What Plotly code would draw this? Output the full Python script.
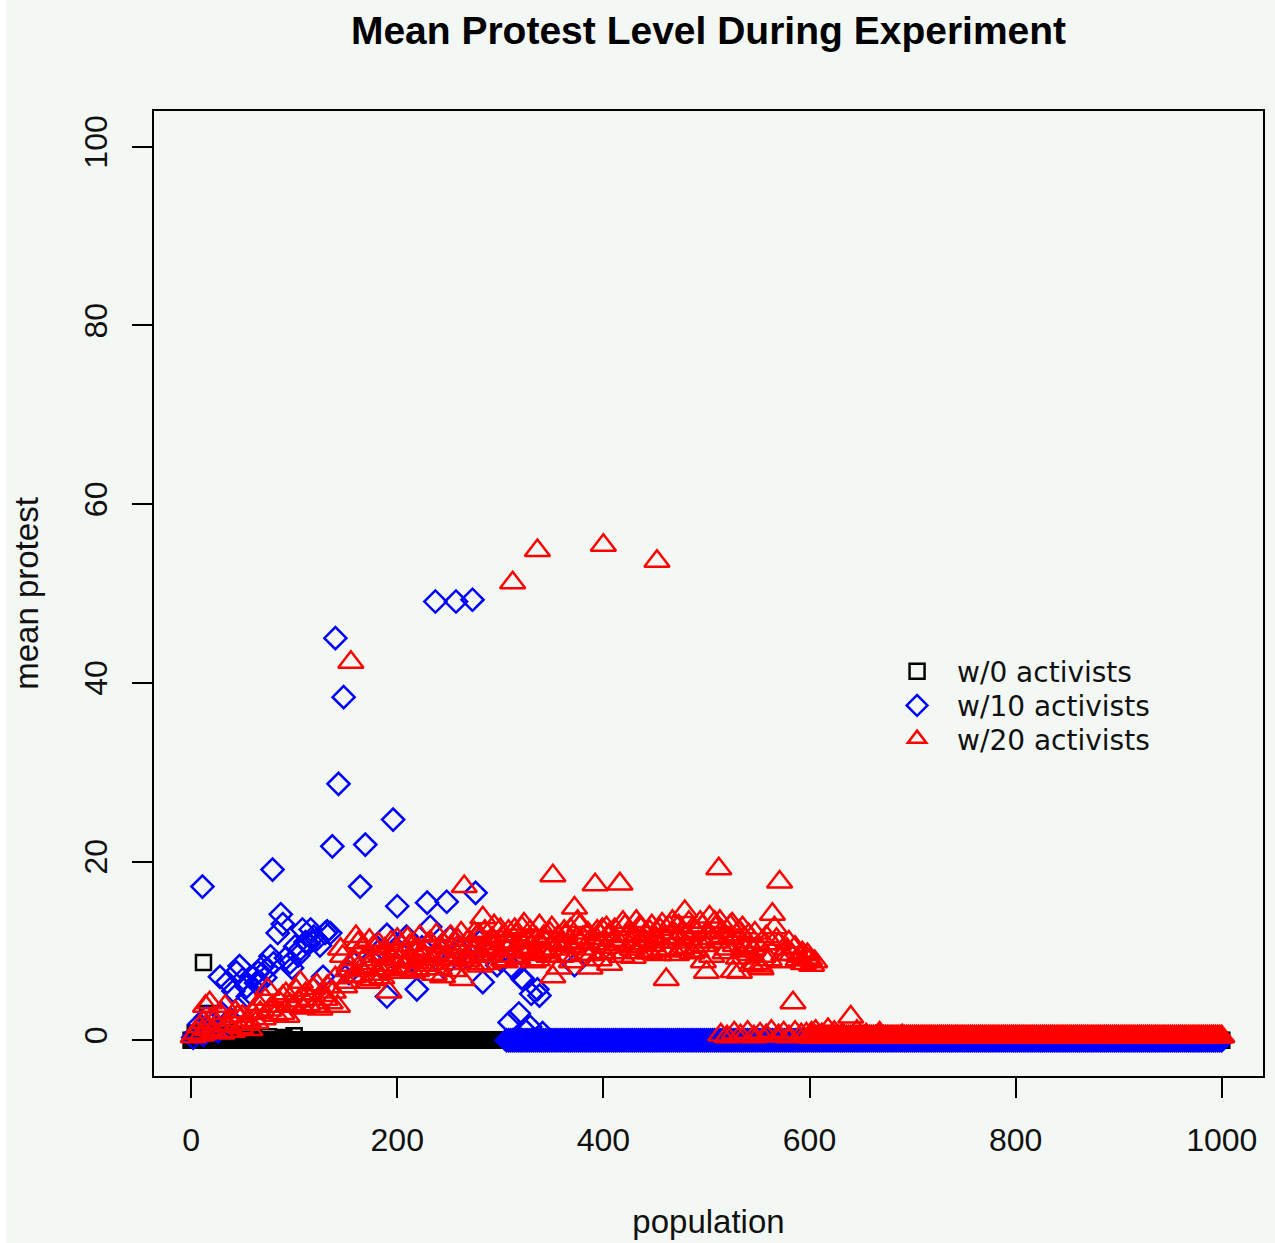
import plotly.graph_objects as go

# ---------------- data ----------------
# w/0 activists (black squares): scattered early values
black_x = [12, 16, 4, 8, 20, 26, 34, 40, 48, 60, 75, 90, 100]
black_y = [8.7, 3.0, 0.8, 0.5, 1.0, 0.6, 0.9, 0.5, 0.7, 0.6, 0.4, 0.3, 0.5]
# flat part: population grid, protest level read as 0
black_flat_x = list(range(0, 1001, 2))
black_flat_y = [0.0] * len(black_flat_x)

# w/10 activists (blue diamonds)
blue_x = [2, 5, 8, 11, 12, 15, 18, 22, 26, 28, 30, 33, 35, 38, 41, 44, 47, 50, 54, 55,
          58, 60, 63, 65, 67, 70, 72, 74, 77, 79, 80, 84, 87, 89, 92, 96, 98, 101, 104, 106,
          108, 111, 114, 116, 119, 122, 125, 128, 130, 132, 135, 137, 140, 143, 148, 153, 158, 164, 169, 175,
          182, 186, 190, 190, 196, 200, 204, 209, 214, 219, 224, 229, 232, 237, 240, 245, 248, 251, 257, 262,
          268, 273, 276, 280, 283, 288, 292, 297, 300, 305, 309, 313, 318, 321, 322, 325, 329, 330, 336, 338,
          341, 372]
blue_y = [0.3, 0.8, 1.8, 17.2, 0.6, 2.6, 1.2, 2.0, 1.0, 7.1, 3.0, 1.6, 6.5, 2.4, 5.5, 7.6, 8.3, 6.8, 6.0, 4.9,
          5.2, 7.1, 6.4, 7.6, 6.5, 8.3, 7.0, 8.0, 9.4, 19.1, 8.6, 12.0, 14.1, 13.0, 9.2, 8.7, 8.1, 10.5, 9.5, 10.2,
          12.4, 11.0, 10.8, 12.4, 11.6, 11.3, 10.6, 7.1, 12.0, 12.2, 12.0, 21.7, 45.0, 28.7, 38.4, 7.5, 8.6, 17.2, 21.9, 9.0,
          10.0, 8.0, 11.8, 4.9, 24.7, 15.0, 10.5, 11.6, 9.0, 5.7, 10.4, 15.4, 12.7, 49.1, 9.6, 8.2, 15.5, 11.5, 49.1, 10.0,
          9.2, 49.3, 16.5, 11.0, 6.5, 9.8, 10.6, 8.4, 9.0, 10.2, 2.0, 8.0, 3.0, 7.0, 6.8, 1.0, 1.5, 5.2, 5.7, 5.0,
          0.8, 8.4]
blue_flat_x = list(range(306, 1001, 2))
blue_flat_y = [0.0] * len(blue_flat_x)

# w/20 activists (red triangles)
red_x = [2, 5, 8, 10, 12, 14, 16, 18, 20, 22, 25, 28, 30, 33, 35, 38, 40, 43, 45, 48,
         50, 53, 55, 57, 60, 63, 65, 67, 70, 72, 74, 76, 79, 82, 85, 88, 89, 92, 93, 96,
         99, 102, 104, 106, 108, 111, 113, 115, 118, 120, 122, 125, 127, 130, 132, 135, 138, 140, 142, 145,
         147, 149, 151, 153, 155, 157, 160, 162, 165, 168, 171, 174, 177, 180, 183, 186, 189, 192, 195, 198,
         200, 203, 206, 209, 212, 215, 218, 221, 224, 227, 230, 233, 236, 239, 242, 244, 247, 250, 253, 256,
         259, 261, 263, 265, 268, 270, 273, 275, 277, 280, 283, 286, 289, 292, 295, 297, 300, 303, 306, 309,
         312, 312, 315, 318, 321, 324, 327, 330, 333, 336, 336, 339, 342, 345, 348, 351, 351, 354, 357, 360,
         363, 366, 368, 370, 372, 375, 378, 380, 383, 387, 390, 392, 394, 397, 400, 400, 403, 406, 409, 413,
         416, 419, 422, 426, 429, 432, 435, 438, 441, 445, 445, 448, 452, 452, 455, 458, 461, 464, 467, 471,
         474, 477, 479, 482, 484, 487, 490, 494, 497, 500, 503, 506, 509, 512, 513, 516, 520, 523, 526, 529,
         532, 532, 536, 539, 542, 545, 548, 552, 555, 558, 564, 568, 571, 575, 578, 584, 586, 589, 590, 593,
         594, 597, 598, 600, 602, 605,
         514, 520, 527, 533, 540, 546, 552, 558, 563, 570, 575, 580, 586, 592, 597,
         602, 606, 612, 618, 624, 632, 640, 646, 655, 668, 690]
red_y = [0.4, 0.8, 1.5, 0.6, 2.0, 3.8, 1.2, 4.2, 2.4, 1.0, 1.8, 3.0, 0.8, 3.8, 1.6, 2.2, 1.0, 3.2, 2.7, 1.4,
         2.7, 1.8, 2.2, 1.2, 3.0, 2.0, 4.0, 3.1, 2.4, 4.6, 5.7, 3.4, 3.8, 2.8, 4.4, 3.0, 4.9, 5.2, 2.7, 4.0,
         3.8, 5.6, 4.4, 6.5, 3.6, 5.2, 4.0, 4.6, 5.8, 3.8, 6.2, 3.5, 5.0, 4.6, 6.0, 4.2, 5.4, 7.0, 3.8, 10.2,
         9.4, 6.0, 6.5, 8.4, 42.3, 7.1, 11.6, 10.9, 8.0, 9.0, 6.5, 8.6, 10.5, 7.4, 7.9, 9.6, 8.4, 5.4, 9.2, 10.0,
         11.3, 7.9, 9.8, 8.8, 10.6, 7.6, 8.7, 10.2, 9.4, 8.0, 10.8, 9.1, 7.4, 9.8, 10.5, 7.1, 9.5, 8.6, 10.3, 9.0,
         11.2, 9.9, 6.8, 17.2, 8.9, 10.6, 9.4, 12.0, 11.6, 8.3, 13.7, 10.4, 9.6, 11.4, 10.0, 10.2, 12.4, 9.0, 11.0, 10.6,
         9.4, 51.2, 11.8, 10.2, 12.6, 9.8, 11.2, 10.4, 9.6, 54.8, 9.0, 10.9, 11.6, 10.0, 12.0, 18.4, 7.1, 11.0, 8.1, 10.6,
         11.8, 9.5, 12.4, 10.5, 14.8, 13.3, 11.0, 11.5, 9.6, 8.1, 10.8, 17.4, 12.2, 11.8, 55.4, 9.8, 12.6, 8.5, 11.2, 10.7,
         17.5, 13.2, 11.6, 10.5, 9.3, 13.3, 12.7, 10.8, 11.9, 12.2, 9.8, 10.6, 53.6, 11.0, 12.4, 10.2, 6.8, 12.7, 13.3, 9.6,
         11.5, 12.0, 14.4, 10.4, 11.3, 12.6, 10.0, 13.2, 8.8, 7.6, 13.8, 11.4, 12.6, 19.2, 13.3, 11.6, 10.2, 12.8, 7.7, 11.8,
         12.2, 7.6, 10.4, 11.0, 9.6, 10.2, 8.6, 8.3, 9.4, 11.6, 14.1, 11.3, 17.7, 9.6, 10.2, 4.2, 10.4, 9.0, 9.4, 9.8,
         8.6, 9.2, 9.6, 9.0, 8.4, 8.8,
         0.6, 0.4, 0.8, 0.5, 0.9, 0.4, 0.7, 0.5, 1.0, 0.5, 0.8, 0.4, 0.9, 0.6, 0.7,
         0.8, 1.0, 0.6, 1.2, 0.9, 0.7, 2.6, 1.0, 0.6, 0.8, 0.5]
# further red points inside the dense cloud (150-600)
red_cloud_x = [152, 158, 163, 166, 170, 173, 176, 179, 182, 185, 188, 191, 194, 197, 201, 204, 207, 210, 213, 216,
               219, 222, 226, 229, 232, 235, 238, 241, 245, 248, 252, 255, 258, 262, 266, 269, 272, 276, 279, 282,
               285, 288, 291, 294, 298, 302, 305, 308, 311, 314, 317, 320, 323, 326, 329, 332, 335, 338, 341, 344,
               347, 350, 353, 356, 359, 362, 365, 369, 374, 377, 381, 385, 389, 393, 396, 399, 402, 405, 408, 411,
               415, 418, 421, 425, 428, 431, 434, 437, 440, 443, 447, 450, 454, 457, 460, 463, 466, 469, 473, 476,
               480, 483, 486, 489, 492, 496, 499, 502, 505, 508, 511, 515, 518, 522, 525, 528, 531, 535, 538, 541,
               544, 547, 550, 553, 557, 561, 566, 570, 574, 580, 583]
red_cloud_y = [7.8, 9.0, 7.2, 10.4, 8.2, 11.2, 6.8, 9.4, 10.8, 7.0, 10.2, 8.0, 11.0, 7.6, 9.0, 10.6, 8.2, 11.4, 9.0, 10.0,
               7.8, 11.6, 9.6, 8.4, 11.0, 9.0, 11.8, 8.0, 10.8, 9.2, 11.6, 7.8, 10.4, 12.0, 9.2, 11.2, 8.6, 10.2, 11.8, 9.6,
               12.2, 8.6, 10.8, 12.8, 9.4, 11.6, 8.8, 12.2, 10.8, 12.4, 9.2, 11.0, 13.0, 10.0, 12.2, 8.8, 11.4, 12.8, 9.8, 11.0,
               9.4, 12.6, 10.2, 11.6, 9.4, 12.2, 10.8, 8.8, 11.4, 12.8, 10.2, 12.0, 9.6, 11.4, 9.0, 12.4, 10.4, 11.8, 9.8, 12.4,
               11.0, 9.4, 12.8, 11.8, 10.2, 11.6, 9.8, 12.6, 11.2, 10.0, 12.8, 11.6, 9.6, 13.0, 11.4, 10.0, 12.0, 11.0, 12.8, 10.2,
               11.8, 13.2, 9.8, 12.2, 11.0, 12.8, 10.6, 12.0, 9.4, 13.2, 11.0, 12.2, 9.8, 11.4, 13.0, 10.6, 9.2, 12.6, 10.0, 11.8,
               8.4, 12.0, 10.6, 8.0, 10.8, 9.0, 12.6, 10.8, 8.8, 11.0, 9.6]
red_flat_x = list(range(600, 1001, 2))
red_flat_y = [0.4] * len(red_flat_x)

names = ["w/0 activists", "w/10 activists", "w/20 activists"]
colors = ["#000000", "#0000ff", "#ff0000"]
symbols = ["square-open", "diamond-open", "triangle-up-open"]
sizes = [15, 17, 22]

x_ticks = [0, 200, 400, 600, 800, 1000]
y_ticks = [0, 20, 40, 60, 80, 100]

# ---------------- figure ----------------
FONT = "Liberation Sans, Arial, sans-serif"
LEG_FONT = "DejaVu Sans, Liberation Sans, sans-serif"
BG = "#f4f8f5"

series = [
    (black_flat_x + black_x, black_flat_y + black_y),
    (blue_x + blue_flat_x, blue_y + blue_flat_y),
    (red_flat_x + red_x + red_cloud_x, red_flat_y + red_y + red_cloud_y),
]
legend_ids = ["legend", "legend2", "legend3"]
# legend rows: text centre at about 672, 706, 739 px from top
legend_y = [0.4449, 0.4096, 0.3752]

fig = go.Figure()
for (xs, ys), name, col, sym, sz, lid in zip(series, names, colors, symbols, sizes, legend_ids):
    fig.add_trace(go.Scatter(
        x=xs, y=ys, mode="markers", name=name, legend=lid,
        marker=dict(symbol=sym, size=sz, color=col, line=dict(color=col, width=2.5)),
    ))

axis_common = dict(
    showline=True, mirror=True, linecolor="black", linewidth=2,
    ticks="outside", ticklen=20, tickwidth=2, tickcolor="black",
    showgrid=False, zeroline=False, automargin=False,
    tickfont=dict(family=FONT, size=32, color="#111"),
)

legend_common = dict(x=0.652, xanchor="left", yanchor="top", itemwidth=70,
                     bgcolor="rgba(0,0,0,0)", font=dict(family=LEG_FONT, size=28, color="#111"),
                     itemsizing="trace")

fig.update_layout(
    width=1275, height=1243,
    margin=dict(l=154, r=12, t=111, b=167, autoexpand=False),
    paper_bgcolor=BG, plot_bgcolor=BG,
    font=dict(family=FONT, color="#111"),
    title=dict(text="<b>Mean Protest Level During Experiment</b>",
               font=dict(family=FONT, size=39, color="black"),
               x=0.5, xref="paper", xanchor="center",
               y=1 - 30 / 1243, yref="container", yanchor="middle"),
    xaxis=dict(range=[-36, 1040], tickvals=x_ticks, ticklabelstandoff=15,
               title=dict(text="population", font=dict(family=FONT, size=33), standoff=52),
               **axis_common),
    yaxis=dict(range=[-4, 104], tickvals=y_ticks, tickangle=-90, ticklabelstandoff=12,
               title=dict(text="mean protest", font=dict(family=FONT, size=33), standoff=30),
               **axis_common),
    legend=dict(y=legend_y[0], **legend_common),
    legend2=dict(y=legend_y[1], **legend_common),
    legend3=dict(y=legend_y[2], **legend_common),
    showlegend=True,
    shapes=[dict(type="rect", xref="paper", yref="paper", layer="below",
                 x0=-154 / 1109, x1=-148 / 1109, y0=-167 / 965, y1=1 + 111 / 965,
                 fillcolor="white", line=dict(width=0))],
)

fig.write_html("out.html")
